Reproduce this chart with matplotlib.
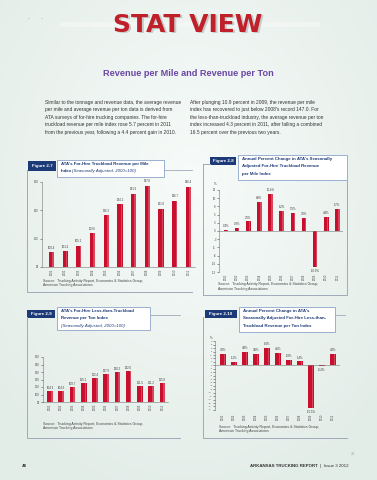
import numpy as np
import matplotlib
matplotlib.use('Agg')
from matplotlib import pyplot as plt
from matplotlib.patches import Rectangle
from matplotlib.lines import Line2D

plt.rcParams['font.family'] = ['Liberation Sans', 'DejaVu Sans']

# data
years = ['2001', '2002', '2003', '2004', '2005', '2006', '2007', '2008', '2009', '2010', '2011']

tl_index = [100.4, 101.2, 105.1, 113.6, 126.3, 134.1, 141.5, 147.0, 131.0, 136.7, 146.4]
tl_change = [0.4, 0.9, 2.9, 8.8, 11.4, 6.2, 5.5, 3.9, -10.9, 4.4, 6.7]
ltl_index = [104.3, 104.5, 109.7, 115.1, 122.4, 127.9, 130.2, 132.0, 111.5, 111.2, 115.9]
ltl_change = [4.2, 1.1, 4.9, 4.0, 6.4, 4.5, 1.8, 1.4, -15.5, -0.4, 4.3]

tl_ticks = [90, 110, 130, 150]
tl_chg_ticks = [12.5, 10, 7.5, 5, 2.5, 0, -2.5, -5, -7.5, -10, -12.5]
ltl_ticks = [90, 100, 110, 120, 130, 140, 150]
ltl_chg_ticks = [8.75 - 1.25 * k for k in range(21)]

source_txt = "Source:  Trucking Activity Report, Economics & Statistics Group,\nAmerican Trucking Associations"

W, H = 377, 480
RED = '#c8102e'
RED_LT = '#e4687c'
NAVY = '#1d3a78'
PANEL = '#9eaabb'
TXT = '#444444'

fig = plt.figure(figsize=(W / 100, H / 100), dpi=100)

# background gradient
bg = fig.add_axes([0, 0, 1, 1])
yy, xx = np.mgrid[0:H, 0:W]
r = np.sqrt(((xx - 190) / 260.0) ** 2 + ((yy - 180) / 330.0) ** 2)
bg.imshow(np.clip(r, 0, 1), cmap=matplotlib.colors.LinearSegmentedColormap.from_list('bg', ['#f7fbf9', '#e3ede8']),
          aspect='auto', extent=[0, W, H, 0])
bg.axis('off')


def ftext(x, y, s, **kw):
    return fig.text(x / W, 1 - y / H, s, **kw)


def frect(x0, y0, x1, y1, **kw):
    fig.add_artist(Rectangle((x0 / W, 1 - y1 / H), (x1 - x0) / W, (y1 - y0) / H,
                             transform=fig.transFigure, **kw))


def fline(xs, ys, **kw):
    fig.add_artist(Line2D([x / W for x in xs], [1 - y / H for y in ys],
                          transform=fig.transFigure, **kw))


def px_axes(x0, y0, x1, y1):
    return fig.add_axes([x0 / W, 1 - y1 / H, (x1 - x0) / W, (y1 - y0) / H])


# header
ftext(28, 19, '-', fontsize=4, color='#999999', va='center')
ftext(41, 19, '-', fontsize=4, color='#999999', va='center')
frect(60, 22, 320, 27, facecolor='white', edgecolor='none', alpha=0.3)
ftext(189.3, 26.3, 'STAT VIEW', fontsize=18, fontweight='bold', color='#9a9a9a', alpha=0.45,
      ha='center', va='center', family='DejaVu Sans')
ftext(188, 25, 'STAT VIEW', fontsize=18, fontweight='bold', color='#c0202a',
      ha='center', va='center', family='DejaVu Sans')
ftext(188, 74, 'Revenue per Mile and Revenue per Ton', fontsize=6.6, fontweight='bold',
      color='#6b46a6', ha='center', va='center')

left_col = ("Similar to the tonnage and revenue data, the average revenue\n"
            "per mile and average revenue per ton data is derived from\n"
            "ATA surveys of for-hire trucking companies. The for-hire\n"
            "truckload revenue per mile index rose 5.7 percent in 2011\n"
            "from the previous year, following a 4.4 percent gain in 2010.")
right_col = ("After plunging 10.9 percent in 2009, the revenue per mile\n"
             "index has recovered to just below 2008's record 147.0. For\n"
             "the less-than-truckload industry, the average revenue per ton\n"
             "index increased 4.3 percent in 2011, after falling a combined\n"
             "16.5 percent over the previous two years.")
ftext(45, 100, left_col, fontsize=3.5, color='#333333', va='top', linespacing=1.6)
ftext(190, 100, right_col, fontsize=3.5, color='#333333', va='top', linespacing=1.6)


def header(x0, y0, x1, y1, label, tx0, ty0, tx1, ty1, lines, line_to, line_y):
    frect(tx0, ty0, tx1, ty1, facecolor='white', edgecolor='#8ea3c9', lw=0.6)
    frect(x0, y0, x1, y1, facecolor=NAVY, edgecolor='none')
    ftext((x0 + x1) / 2, (y0 + y1) / 2, label, fontsize=3.2, fontweight='bold', color='white',
          ha='center', va='center')
    fline([tx1, line_to], [line_y, line_y], color=PANEL, lw=0.6)
    for i, (s, style) in enumerate(lines):
        ftext(tx0 + 4, ty0 + 4 + i * 7.3, s, fontsize=3.2, fontweight='bold' if style == 'b' else 'normal',
              fontstyle='italic' if style == 'i' else 'normal', color=NAVY, va='center')


def style_axes(ax, ylim, ticks, ticklabels, xlim, bottom, xpad=1, ysize=2.0):
    ax.set_facecolor('none')
    ax.set_xlim(*xlim)
    ax.set_ylim(*ylim)
    for s in ['top', 'right']:
        ax.spines[s].set_visible(False)
    ax.spines['bottom'].set_visible(bottom)
    for s in ['left', 'bottom']:
        ax.spines[s].set_color('#777777')
        ax.spines[s].set_linewidth(0.4)
    ax.set_yticks(ticks)
    ax.set_yticklabels(ticklabels)
    ax.set_xticks(range(len(years)))
    ax.set_xticklabels(years, rotation=90)
    ax.tick_params(axis='y', labelsize=ysize, length=1.3, width=0.4, pad=1, colors=TXT)
    ax.tick_params(axis='x', labelsize=2.0, length=0, pad=xpad, colors=TXT)


def draw_bars(ax, vals, w, base, fmt, off):
    x = np.arange(len(vals))
    v = np.array(vals)
    ax.bar(x, v - base, width=w, bottom=base, color=RED, edgecolor='none')
    ax.bar(x + w * 0.3, v - base, width=w * 0.3, bottom=base, color=RED_LT, edgecolor='none', alpha=0.6)
    for xi, vi in zip(x, v):
        d = off if vi >= 0 or base != 0 else -off
        ax.text(xi, vi + d, fmt.format(vi), fontsize=2.0, ha='center',
                va='bottom' if d > 0 else 'top', color='#333333')


def xl_round(t):
    return str(int(np.sign(t) * np.floor(abs(t) + 0.5)))


# Figure 2-7
fline([27, 27, 192], [170, 292, 292], color=PANEL, lw=0.7)
header(28, 161, 56, 171, 'Figure 2-7', 57, 160, 164, 177,
       [("ATA's For-Hire Truckload Revenue per Mile", 'b')], 192, 170)
ftext(61, 171.3, 'Index', fontsize=3.2, fontweight='bold', color=NAVY, va='center')
ftext(71.5, 171.3, '(Seasonally Adjusted, 2000=100)', fontsize=3.2, fontstyle='italic', color=NAVY, va='center')
ax1 = px_axes(42, 181.7, 195, 267)
style_axes(ax1, (90, 150), tl_ticks, [str(t) for t in tl_ticks], (-0.69, 10.48), True)
draw_bars(ax1, tl_index, 0.38, 90, '{:.1f}', 1.8)
ftext(43, 283, source_txt, fontsize=2.5, color=TXT, va='center', linespacing=1.3)

# Figure 2-8
fline([203, 203, 347, 347], [164, 295, 295, 180], color=PANEL, lw=0.7)
fline([203, 210], [164, 164], color=PANEL, lw=0.7)
header(210, 157, 236, 165, 'Figure 2-8', 238, 155, 347, 180,
       [("Annual Percent Change in ATA's Seasonally", 'b'),
        ("Adjusted For-Hire Truckload Revenue", 'b'),
        ("per Mile Index", 'b')], 347, 180)
ax2 = px_axes(219, 190, 343, 272)
style_axes(ax2, (-12.5, 12.5), tl_chg_ticks, [xl_round(t) for t in tl_chg_ticks], (-0.63, 10.5), False)
ax2.axhline(0, color='#777777', lw=0.4)
draw_bars(ax2, tl_change, 0.42, 0, '{:.1f}%', 0.6)
ftext(216, 184, '%', fontsize=2.2, color=TXT, ha='right', va='center')
ftext(218, 286.5, source_txt, fontsize=2.5, color=TXT, va='center', linespacing=1.3)

# Figure 2-9
fline([27, 27, 180], [317, 438, 438], color=PANEL, lw=0.7)
header(27, 310, 55, 318, 'Figure 2-9', 57, 307, 150, 330,
       [("ATA's For-Hire Less-than-Truckload", 'b'),
        ("Revenue per Ton Index", 'b'),
        ("(Seasonally Adjusted, 2000=100)", 'i')], 180, 315)
ax3 = px_axes(43, 357, 168, 402)
style_axes(ax3, (90, 150), ltl_ticks, [str(t) for t in ltl_ticks], (-0.63, 10.5), True)
draw_bars(ax3, ltl_index, 0.5, 90, '{:.1f}', 1.2)
ftext(43, 426, source_txt, fontsize=2.5, color=TXT, va='center', linespacing=1.3)

# Figure 2-10
fline([203, 203, 347], [317, 438, 438], color=PANEL, lw=0.7)
header(205, 310, 237, 318, 'Figure 2-10', 239, 307, 335, 332,
       [("Annual Percent Change in ATA's", 'b'),
        ("Seasonally Adjusted For-Hire Less-than-", 'b'),
        ("Truckload Revenue per Ton Index", 'b')], 345, 315)
ax4 = px_axes(215, 341.3, 340, 409.9)
style_axes(ax4, (-16.25, 8.75), ltl_chg_ticks, [xl_round(t) for t in ltl_chg_ticks], (-0.73, 10.64), False,
           xpad=3, ysize=1.7)
ax4.axhline(0, color='#777777', lw=0.4)
draw_bars(ax4, ltl_change, 0.48, 0, '{:.1f}%', 0.7)
ftext(212, 338, '%', fontsize=2.2, color=TXT, ha='right', va='center')
ftext(219, 429, source_txt, fontsize=2.5, color=TXT, va='center', linespacing=1.3)

# footer
ftext(351, 454, '21', fontsize=3.0, color='#aaaaaa', va='center')
ftext(22, 466, '48', fontsize=3.2, fontweight='bold', color='#333333', va='center')
ftext(318, 466, 'ARKANSAS TRUCKING REPORT', fontsize=3.2, fontweight='bold', color='#333333',
      ha='right', va='center')
ftext(320, 466, '|  Issue 3 2012', fontsize=3.2, color='#333333', va='center')

fig.savefig('out.png', dpi=100)
